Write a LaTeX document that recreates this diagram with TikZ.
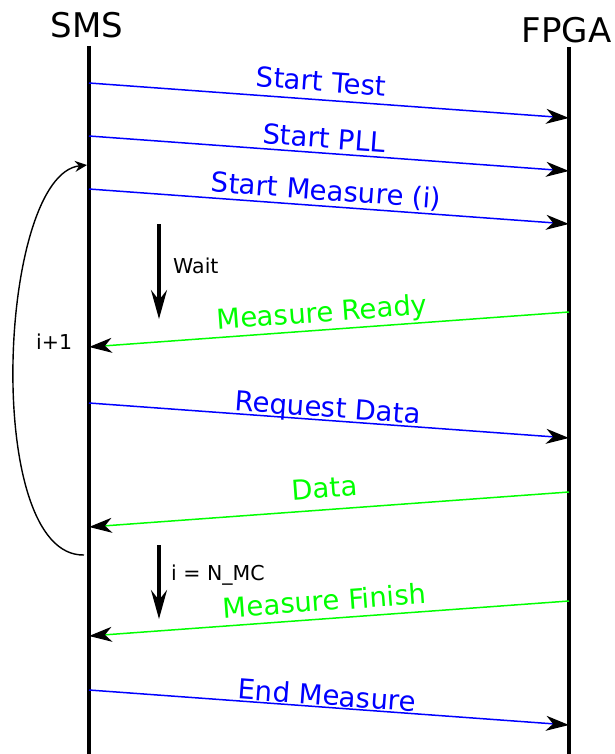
\documentclass[tikz,border=0pt]{standalone}
\usepackage{fontspec}
\setmainfont{DejaVu Sans}
\usetikzlibrary{arrows.meta}

\begin{document}
\begin{tikzpicture}[x=1pt, y=-1pt,
    lifeline/.style={line width=3.5pt},
    msgtip/.style={-{Stealth[color=black, fill=black, length=23pt, width=15pt, inset=7pt]}},
    tofpga/.style={blue, line width=1.5pt, msgtip},
    tosms/.style={green, line width=1.5pt, msgtip},
    msglabel/.style={sloped, anchor=base, inner sep=0pt, font=\fontsize{27.5}{33}\selectfont},
    waitarrow/.style={line width=3.2pt, -{Stealth[length=29pt, width=16pt, inset=10pt]}},
    note/.style={anchor=base west, inner sep=0pt, font=\fontsize{20.5}{25}\selectfont},
    party/.style={anchor=base, inner sep=0pt, font=\fontsize{34}{40}\selectfont}]
    \useasboundingbox (0,0) rectangle (614,754);

    % Teilnehmer
    \node[party] (sms) at (87,38) {SMS};
    \node[party] (fpga) at (566.5,43) {FPGA};
    \coordinate (smstop) at (89,46);
    \coordinate (smsend) at (89,754);
    \coordinate (fpgatop) at (569,47);
    \coordinate (fpgaend) at (569,754);
    \draw[lifeline] (smstop) -- (smsend);
    \draw[lifeline] (fpgatop) -- (fpgaend);

    % Punkte auf den Lebenslinien
    \coordinate (s1) at (89,83);   \coordinate (f1) at (569,118);
    \coordinate (s2) at (89,136);  \coordinate (f2) at (569,171);
    \coordinate (s3) at (89,189);  \coordinate (f3) at (569,224);
    \coordinate (f4) at (569,312); \coordinate (s4) at (89,347);
    \coordinate (s5) at (89,403);  \coordinate (f5) at (569,438);
    \coordinate (f6) at (569,492); \coordinate (s6) at (89,527);
    \coordinate (f7) at (569,601); \coordinate (s7) at (89,636);
    \coordinate (s8) at (89,690);  \coordinate (f8) at (569,725);

    % Nachrichten
    \draw[tofpga] (s1) -- (f1) node[msglabel, pos=0.481, yshift=8.5pt] (m1) {Start Test};
    \draw[tofpga] (s2) -- (f2) node[msglabel, pos=0.488, yshift=5pt] (m2) {Start PLL};
    \draw[tofpga] (s3) -- (f3) node[msglabel, pos=0.492, yshift=6pt] (m3) {Start Measure (i)};
    \draw[tosms] (f4) -- (s4) node[msglabel, pos=0.512, yshift=8pt] (m4) {Measure Ready};
    \draw[tofpga] (s5) -- (f5) node[msglabel, pos=0.496, yshift=3pt] (m5) {Request Data};
    \draw[tosms] (f6) -- (s6) node[msglabel, pos=0.506, yshift=12pt] (m6) {Data};
    \draw[tosms] (f7) -- (s7) node[msglabel, pos=0.506, yshift=8pt] (m7) {Measure Finish};
    \draw[tofpga] (s8) -- (f8) node[msglabel, pos=0.494, yshift=2pt] (m8) {End Measure};

    % Warten
    \coordinate (w1) at (159,224);
    \coordinate (w2) at (159,319);
    \draw[waitarrow] (w1) -- (w2);
    \node[note] (wait) at (173,273) {Wait};
    \coordinate (n1) at (159,545);
    \coordinate (n2) at (159,619);
    \draw[waitarrow] (n1) -- (n2);
    \node[note] (stop) at (171,580) {i = N\_MC};

    % Schleife
    \coordinate (loopstart) at (84,555);
    \coordinate (loopend) at (87,165);
    \draw[line width=1.4pt, -{Stealth[length=12pt, width=11pt, inset=4pt]}]
        (loopstart) .. controls (-18,557) and (-2,175) .. (loopend);
    \node[note] (inc) at (36,349) {i+1};
\end{tikzpicture}
\end{document}
